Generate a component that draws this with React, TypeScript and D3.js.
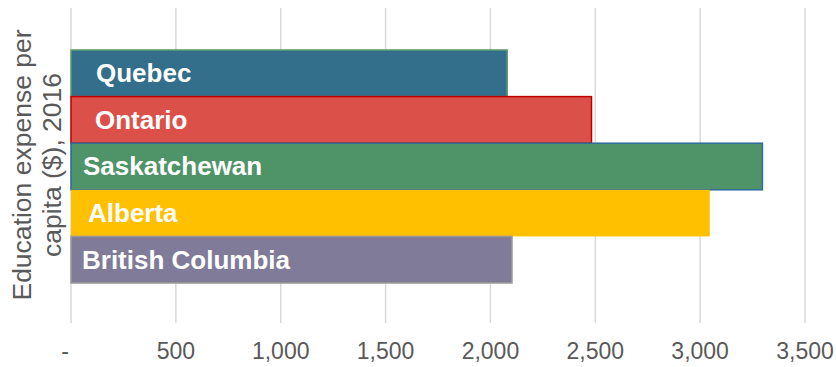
import React, { useEffect, useRef } from 'react';
import * as d3 from 'd3';

const provinces = ['Quebec', 'Ontario', 'Saskatchewan', 'Alberta', 'British Columbia'];
const expense = [2080, 2482, 3297, 3046, 2103];
const fills = ['#336e8a', '#db514a', '#4f9369', '#ffc000', '#7f7b99'];
const strokes = ['#5e9c70', '#c00000', '#2f6b9c', 'none', '#9a9a9a'];
const labelOffsets = [25, 24, 12, 17, 11];
const xTicks = [0, 500, 1000, 1500, 2000, 2500, 3000, 3500];

const FONT = "'Liberation Sans', Arial, sans-serif";

export default function App() {
  const svgRef = useRef<SVGSVGElement>(null);

  useEffect(() => {
    if (!svgRef.current) return;
    const svg = d3.select(svgRef.current);
    svg.selectAll('*').remove();

    const x = d3.scaleLinear().domain([0, 3500]).range([71, 805]);
    const y = d3.scaleBand().domain(provinces).range([50, 283]).padding(0);

    // gridlines
    svg.append('g')
      .selectAll('line')
      .data(xTicks)
      .enter()
      .append('line')
      .attr('x1', d => x(d))
      .attr('x2', d => x(d))
      .attr('y1', 8)
      .attr('y2', 323)
      .attr('stroke', '#d9d9d9')
      .attr('stroke-width', 1.5);

    // bars
    svg.append('g')
      .selectAll('rect')
      .data(provinces)
      .enter()
      .append('rect')
      .attr('x', x(0))
      .attr('y', d => y(d) as number)
      .attr('width', (d, i) => x(expense[i]) - x(0))
      .attr('height', y.bandwidth())
      .attr('fill', (d, i) => fills[i])
      .attr('stroke', (d, i) => strokes[i])
      .attr('stroke-width', 1.5);

    // bar labels
    svg.append('g')
      .selectAll('text')
      .data(provinces)
      .enter()
      .append('text')
      .attr('x', (d, i) => x(0) + labelOffsets[i])
      .attr('y', d => (y(d) as number) + y.bandwidth() / 2)
      .attr('dy', '0.34em')
      .attr('fill', '#ffffff')
      .attr('font-family', FONT)
      .attr('font-weight', 'bold')
      .attr('font-size', 26)
      .text(d => d);

    // x tick labels
    svg.append('g')
      .selectAll('text')
      .data(xTicks)
      .enter()
      .append('text')
      .attr('x', d => (d === 0 ? x(d) - 6 : x(d)))
      .attr('y', 359)
      .attr('text-anchor', 'middle')
      .attr('fill', '#595959')
      .attr('font-family', FONT)
      .attr('font-size', 23)
      .text(d => (d === 0 ? '-' : d3.format(',')(d)));

    // y title
    const title = svg.append('text')
      .attr('transform', 'rotate(-90)')
      .attr('text-anchor', 'middle')
      .attr('fill', '#595959')
      .attr('font-family', FONT)
      .attr('font-size', 26.5);
    title.append('tspan').attr('x', -165).attr('y', 31).text('Education expense per');
    title.append('tspan').attr('x', -165).attr('y', 61).text('capita ($), 2016');
  }, []);

  return (
    <div style={{ position: 'absolute', left: 0, top: 0, width: 836, height: 367, background: '#ffffff' }}>
      <svg ref={svgRef} width={836} height={367} style={{ display: 'block' }} />
    </div>
  );
}
